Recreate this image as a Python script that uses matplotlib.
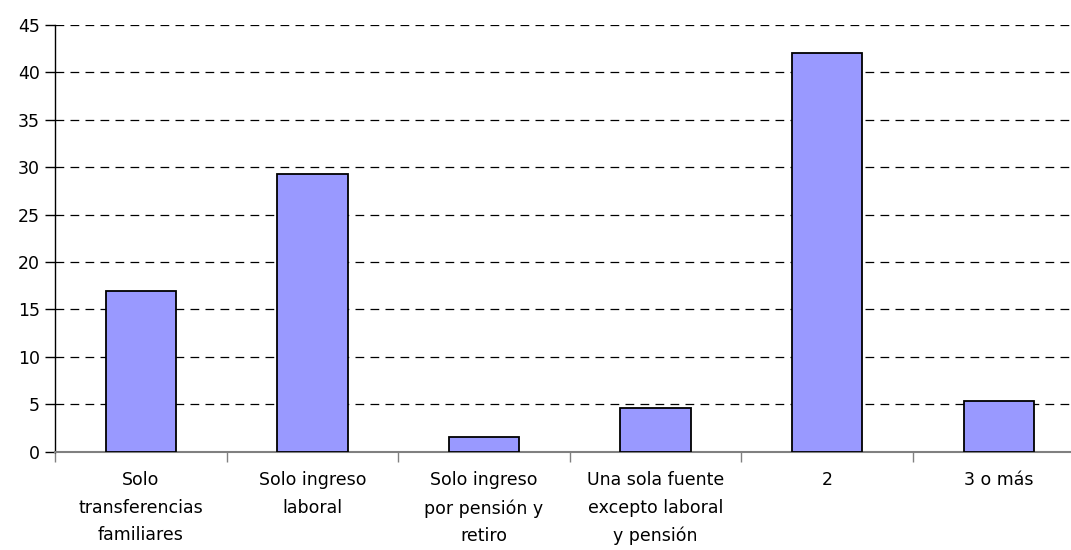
import numpy as np
import matplotlib.pyplot as plt

# categorias de fuentes de ingreso
categorias = ["Solo\ntransferencias\nfamiliares", "Solo ingreso\nlaboral",
              "Solo ingreso\npor pensión y\nretiro", "Una sola fuente\nexcepto laboral\ny pensión",
              "2", "3 o más"]
valores = [17.0, 29.3, 1.6, 4.6, 42.1, 5.4]
yticks = [0, 5, 10, 15, 20, 25, 30, 35, 40, 45]

fig = plt.figure(figsize=(10.71, 5.5), dpi=100)
ax = fig.add_axes([0.0514, 0.1787, 0.9486, 0.7758])

x = np.arange(len(categorias))
ax.bar(x, valores, width=0.41, color="#9999ff", edgecolor="black", linewidth=1.3, zorder=3)

# lineas de guia punteadas
for y in yticks[1:]:
    ax.axhline(y, color="black", linestyle=(0, (7, 5)), linewidth=0.9, zorder=1)

ax.set_ylim(0, 45)
ax.set_xlim(-0.5, -0.5 + 1016 / 171.6)
ax.set_yticks(yticks)
ax.set_yticklabels([str(v) for v in yticks], fontsize=12.5)

# ticks entre categorias, etiquetas centradas
ax.set_xticks(np.arange(len(categorias)) - 0.5)
ax.set_xticklabels([])
ax.set_xticks(x, minor=True)
ax.set_xticklabels(categorias, minor=True, fontsize=12.5, linespacing=1.68)
ax.tick_params(axis="x", which="minor", length=0, pad=14)
ax.tick_params(axis="x", which="major", length=7, width=1, color="#808080", direction="out")
ax.tick_params(axis="y", length=7, width=1, direction="out", pad=4)

for s in ["top", "right"]:
    ax.spines[s].set_visible(False)
ax.spines["bottom"].set_color("#808080")
ax.spines["bottom"].set_linewidth(1.5)
ax.spines["left"].set_linewidth(1.0)

fig.savefig("out.png", dpi=100)
